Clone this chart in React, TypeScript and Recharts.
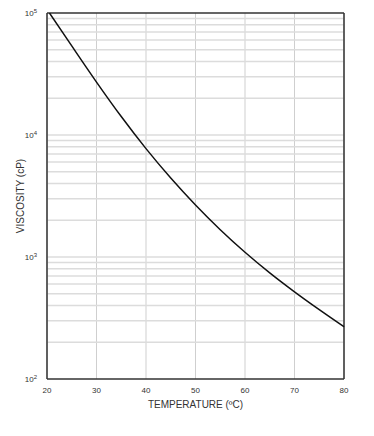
import React from 'react';
import { LineChart, Line, XAxis, YAxis, CartesianGrid, ReferenceLine, Label } from 'recharts';

const temperatures = [20.5, 25, 30, 35, 40, 45, 50, 55, 60, 65, 70, 75, 80];
const viscosity = [100000, 53700, 27160, 14160, 7730, 4440, 2670, 1675, 1094, 741, 518, 370, 268];
const xTicks = [20, 30, 40, 50, 60, 70, 80];
const yTicks = [100, 1000, 10000, 100000];
const minorGrid = [2, 3, 4, 5, 6, 7, 8, 9].flatMap(m => [100, 1000, 10000].map(d => m * d));

const data = temperatures.map((t, i) => ({ t, v: viscosity[i] }));

const FONT = 'Liberation Sans, Arial, sans-serif';

const YTick = ({ x, y, payload }: any) => {
  const exp = Math.round(Math.log10(payload.value));
  return (
    <text x={x - 2} y={y + 3} textAnchor="end" fontFamily={FONT} fontSize={8} fill="#333">
      10<tspan fontSize={6} dy={-3}>{exp}</tspan>
    </text>
  );
};

export default function App() {
  return (
    <div style={{ position: 'absolute', left: 0, top: 0, background: '#fff' }}>
      <LineChart width={374} height={436} data={data} margin={{ top: 13, right: 30, bottom: 27, left: 7 }}>
        <CartesianGrid horizontal={false} stroke="#cfcfcf" strokeWidth={1} />
        {minorGrid.map(v => (
          <ReferenceLine key={v} y={v} stroke="#dcdcdc" strokeWidth={1.5} />
        ))}
        {[1000, 10000].map(v => (
          <ReferenceLine key={'d' + v} y={v} stroke="#dcdcdc" strokeWidth={1.5} />
        ))}
        <ReferenceLine y={100000} stroke="#333" strokeWidth={1.5} />
        <ReferenceLine x={80} stroke="#333" strokeWidth={1.5} />
        <XAxis
          dataKey="t"
          type="number"
          domain={[20, 80]}
          ticks={xTicks}
          tickLine={false}
          axisLine={{ stroke: '#333', strokeWidth: 1.5 }}
          tick={{ fontSize: 8, fill: '#333', fontFamily: FONT }}
          tickMargin={2}
          height={30}
        >
          <Label value="TEMPERATURE (ºC)" position="insideBottom" offset={1} style={{ fontSize: 10, fill: '#333', fontFamily: FONT }} />
        </XAxis>
        <YAxis
          type="number"
          scale="log"
          domain={[100, 100000]}
          ticks={yTicks}
          allowDataOverflow
          tickLine={false}
          axisLine={{ stroke: '#333', strokeWidth: 1.5 }}
          tick={<YTick />}
          width={40}
        >
          <Label value="VISCOSITY (cP)" angle={-90} position="insideLeft" offset={13} style={{ fontSize: 10, fill: '#333', fontFamily: FONT, textAnchor: 'middle' }} />
        </YAxis>
        <Line dataKey="v" type="monotone" stroke="#111" strokeWidth={1.5} dot={false} isAnimationActive={false} />
      </LineChart>
    </div>
  );
}
